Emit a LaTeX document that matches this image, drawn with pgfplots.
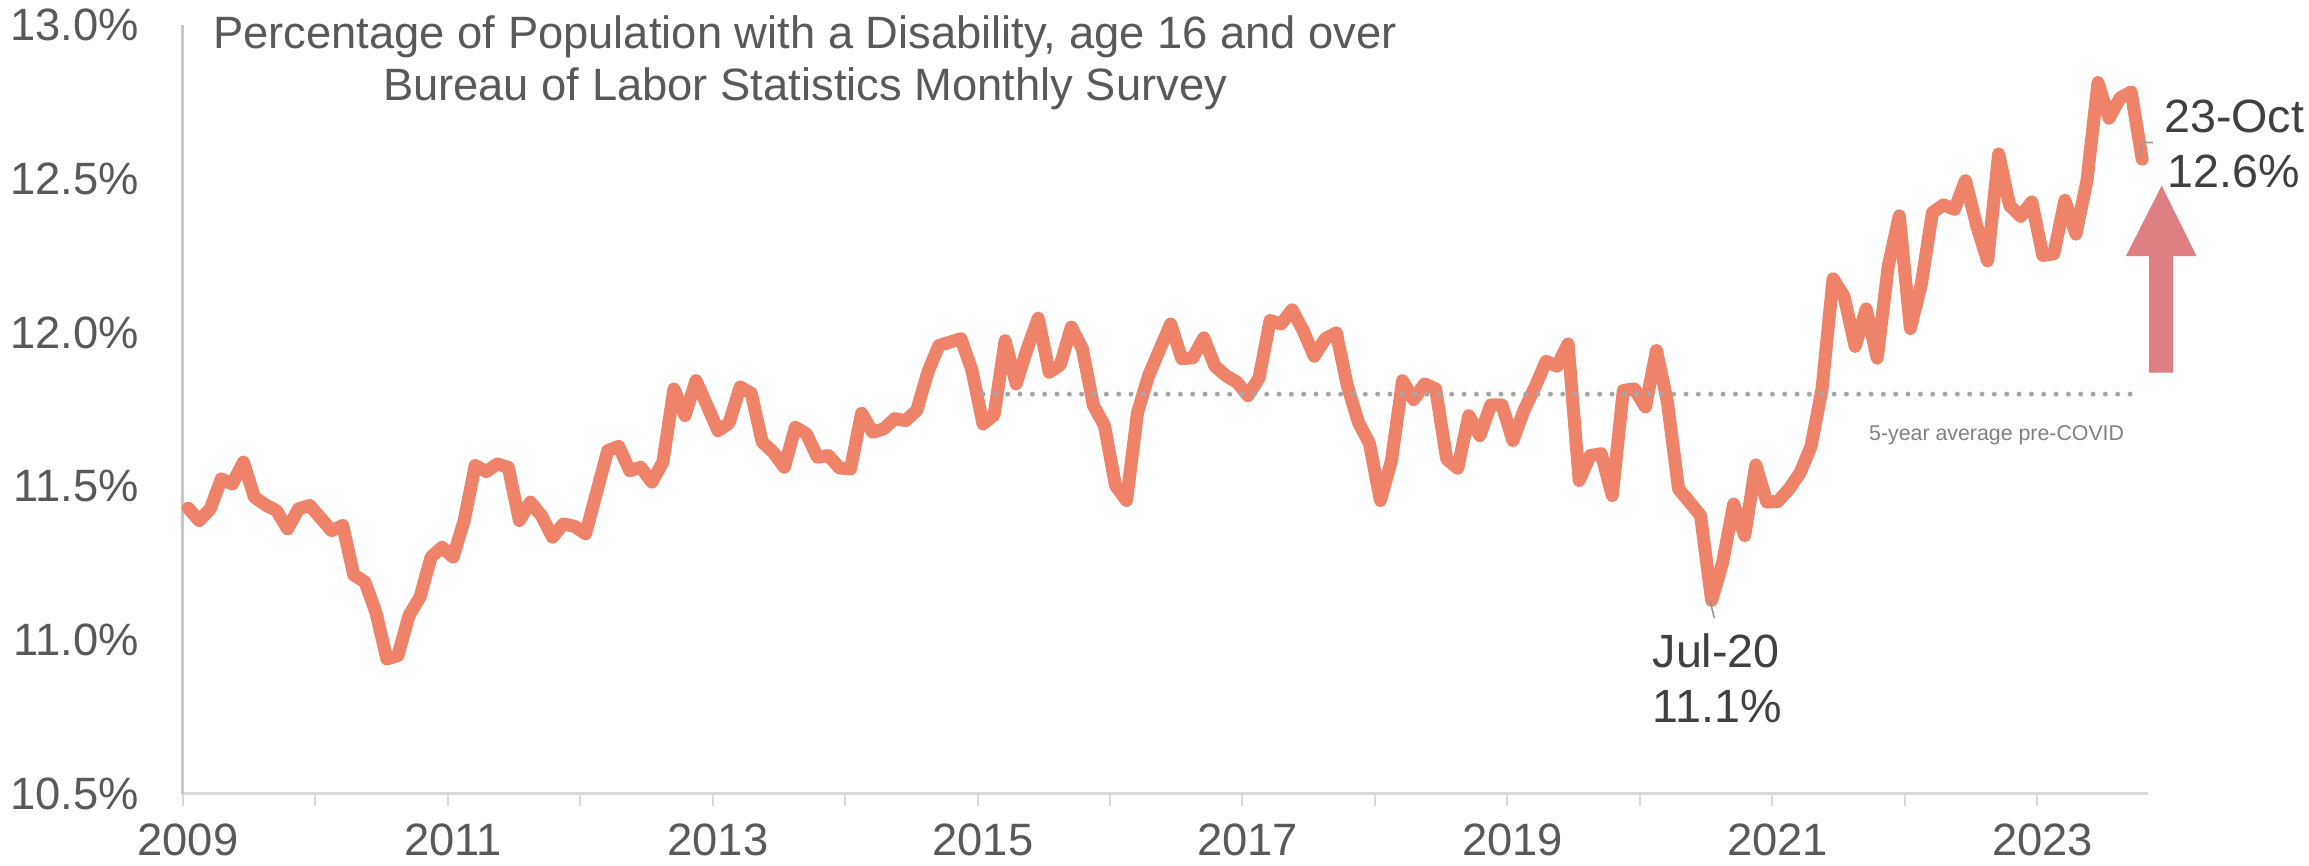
\documentclass[border=0pt]{standalone}
\usepackage{fontspec}
\setmainfont{Liberation Sans}
\usepackage{pgfplots}
\pgfplotsset{compat=1.18}
\usepackage{pgfplotstable}
\definecolor{lineC}{HTML}{EE836A}
\definecolor{arrowC}{HTML}{DE8083}
\definecolor{txt}{HTML}{595959}
\definecolor{ann}{HTML}{404040}
\definecolor{note}{HTML}{808080}
\definecolor{dotC}{HTML}{A6A6A6}
\pgfplotstableread{
m v
0 11.429
1 11.389
2 11.427
3 11.524
4 11.508
5 11.579
6 11.465
7 11.440
8 11.421
9 11.362
10 11.427
11 11.438
12 11.397
13 11.356
14 11.373
15 11.212
16 11.190
17 11.091
18 10.939
19 10.950
20 11.080
21 11.140
22 11.270
23 11.302
24 11.270
25 11.389
26 11.568
27 11.548
28 11.573
29 11.562
30 11.389
31 11.449
32 11.405
33 11.335
34 11.378
35 11.370
36 11.346
37 11.481
38 11.616
39 11.630
40 11.551
41 11.562
42 11.514
43 11.579
44 11.817
45 11.730
46 11.844
47 11.763
48 11.681
49 11.706
50 11.823
51 11.803
52 11.644
53 11.611
54 11.562
55 11.692
56 11.671
57 11.595
58 11.600
59 11.560
60 11.557
61 11.738
62 11.676
63 11.687
64 11.720
65 11.714
66 11.747
67 11.871
68 11.958
69 11.969
70 11.980
71 11.877
72 11.703
73 11.732
74 11.974
75 11.833
76 11.947
77 12.047
78 11.871
79 11.895
80 12.018
81 11.947
82 11.763
83 11.698
84 11.503
85 11.454
86 11.741
87 11.860
88 11.945
89 12.028
90 11.915
91 11.918
92 11.983
93 11.891
94 11.860
95 11.839
96 11.795
97 11.852
98 12.039
99 12.028
100 12.074
101 12.007
102 11.923
103 11.980
104 11.999
105 11.828
106 11.709
107 11.640
108 11.454
109 11.584
110 11.844
111 11.782
112 11.833
113 11.817
114 11.589
115 11.559
116 11.730
117 11.665
118 11.765
119 11.765
120 11.649
121 11.747
122 11.823
123 11.906
124 11.891
125 11.963
126 11.519
127 11.600
128 11.606
129 11.470
130 11.812
131 11.817
132 11.758
133 11.942
134 11.774
135 11.492
136 11.449
137 11.405
138 11.129
139 11.253
140 11.443
141 11.340
142 11.570
143 11.449
144 11.451
145 11.491
146 11.543
147 11.630
148 11.816
149 12.175
150 12.117
151 11.955
152 12.077
153 11.917
154 12.216
155 12.380
156 12.013
157 12.158
158 12.390
159 12.415
160 12.401
161 12.494
162 12.349
163 12.233
164 12.581
165 12.413
166 12.378
167 12.425
168 12.251
169 12.256
170 12.430
171 12.320
172 12.494
173 12.813
174 12.697
175 12.763
176 12.782
177 12.564
}\disab
\begin{document}
\begin{tikzpicture}
\useasboundingbox (-54.8pt,-21.3pt) rectangle (637.9pt,238.2pt);
\begin{axis}[
 at={(0pt,0pt)}, anchor=south west,
 scale only axis, width=589.5pt, height=230.7pt,
 xmin=0, xmax=178, ymin=10.5, ymax=13.0,
 axis x line*=bottom, axis y line*=left,
 x axis line style={-, draw=black!15, line width=0.9pt},
 y axis line style={-, draw=black!22, line width=0.7pt},
 xtick={0,12,...,168},
 xticklabels={2009,,2011,,2013,,2015,,2017,,2019,,2021,,2023},
 ytick={10.5,11,11.5,12,12.5,13},
 yticklabels={10.5\%,11.0\%,11.5\%,12.0\%,12.5\%,13.0\%},
 tick align=outside, major tick length=3.6pt,
 xtick style={draw=black!15, line width=0.6pt},
 ytick style={draw=none},
 ticklabel style={font=\fontsize{13.6}{16}\selectfont, text=txt},
 xticklabel style={anchor=north, inner sep=0pt, yshift=-5.3pt, xshift=1.6pt},
 yticklabel style={anchor=east, inner sep=0pt, xshift=-9.4pt},
 clip=false,
]
\addplot[lineC, line width=3.9pt, line join=round, line cap=round] table[x expr=\thisrow{m}+0.5, y=v]{\disab};
\addplot[dotC, line width=1.5pt, line cap=round, dash pattern=on 0pt off 3.7pt] coordinates {(72.5,11.8) (176.9,11.8)};
\node[anchor=base, inner sep=0pt, font=\fontsize{13.6}{16}\selectfont, text=txt] at (axis cs:56.38,12.925) {Percentage of Population with a Disability, age 16 and over};
\node[anchor=base, inner sep=0pt, font=\fontsize{13.6}{16}\selectfont, text=txt] at (axis cs:56.38,12.753) {Bureau of Labor Statistics Monthly Survey};
\node[anchor=base west, inner sep=0pt, font=\fontsize{14}{16}\selectfont, text=ann] at (axis cs:133.1,10.910) {Jul-20};
\node[anchor=base west, inner sep=0pt, font=\fontsize{14}{16}\selectfont, text=ann] at (axis cs:133.1,10.731) {11.1\%};
\node[anchor=base west, inner sep=0pt, font=\fontsize{14}{16}\selectfont, text=ann] at (axis cs:179.43,12.650) {23-Oct};
\node[anchor=base west, inner sep=0pt, font=\fontsize{14}{16}\selectfont, text=ann] at (axis cs:179.75,12.473) {12.6\%};
\node[anchor=base, inner sep=0pt, font=\fontsize{6.4}{8}\selectfont, text=note] at (axis cs:164.32,11.648) {5-year average pre-COVID};
\draw[black!40, line width=0.5pt] (axis cs:138.35,11.131) -- (axis cs:138.74,11.072);
\draw[black!40, line width=0.5pt] (axis cs:177.34,12.571) -- (axis cs:177.5,12.618) -- (axis cs:178.47,12.618);
\fill[arrowC] (axis cs:179.27,12.478) -- ++(10.47pt,-21.18pt) -- ++(-7.05pt,0pt) -- ++(0pt,-34.95pt) -- ++(-7.17pt,0pt) -- ++(0pt,34.95pt) -- ++(-6.99pt,0pt) -- cycle;
\end{axis}
\end{tikzpicture}
\end{document}
